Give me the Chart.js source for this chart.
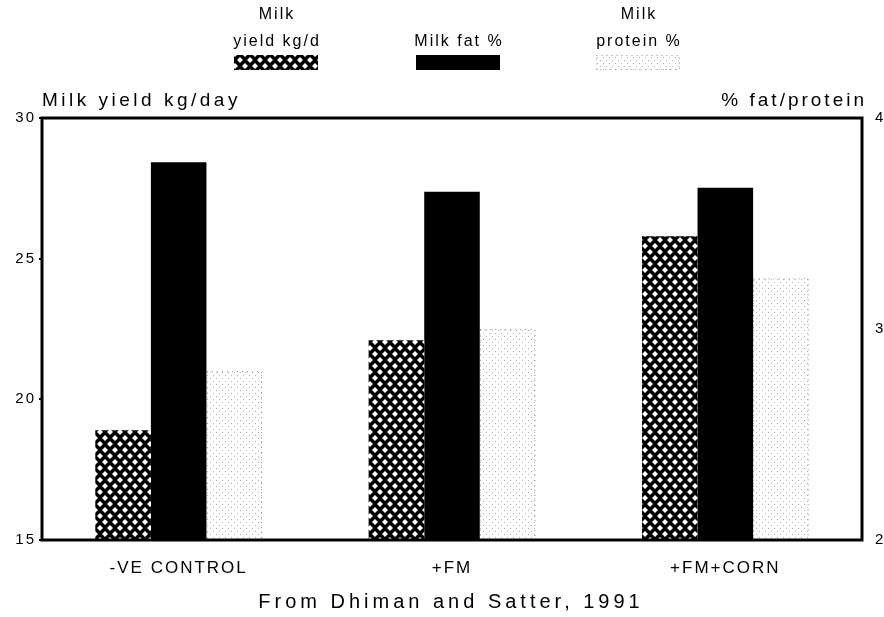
<!DOCTYPE html>
<html lang="en">
<head>
  <meta charset="UTF-8">
  <title>Milk yield and composition</title>
  <script src="https://cdn.jsdelivr.net/npm/chart.js"></script>
  <style>
    body { margin: 0; background: #fff; }
    #wrap { width: 884px; height: 617px; }
  </style>
</head>
<body>
  <div id="wrap"><canvas id="milkChart" width="884" height="617"></canvas></div>
  <script>
    // values
    const categories = ['-VE CONTROL', '+FM', '+FM+CORN'];
    const milkYield = [18.9, 22.1, 25.8];      // kg/day, left axis
    const milkFat = [3.79, 3.65, 3.67];        // %, right axis
    const milkProtein = [2.80, 3.00, 3.24];    // %, right axis
    const leftTicks = [15, 20, 25, 30];
    const rightTicks = [2, 3, 4];

    const FONT = '"Liberation Sans", Arial, sans-serif';

    // black mesh with white diamonds
    function meshPattern(ctx) {
      const w = 10, h = 12;
      const c = document.createElement('canvas');
      c.width = w; c.height = h;
      const g = c.getContext('2d');
      g.fillStyle = '#000';
      g.fillRect(0, 0, w, h);
      g.fillStyle = '#fff';
      const pts = [[0, 0], [w, 0], [0, h], [w, h], [w / 2, h / 2]];
      pts.forEach(([x, y]) => {
        g.beginPath();
        g.moveTo(x, y - 3.1);
        g.lineTo(x + 3, y);
        g.lineTo(x, y + 3.1);
        g.lineTo(x - 3, y);
        g.closePath();
        g.fill();
      });
      return ctx.createPattern(c, 'repeat');
    }

    // light dotted diagonal hatching
    function dotPattern(ctx) {
      const c = document.createElement('canvas');
      c.width = 6; c.height = 6;
      const g = c.getContext('2d');
      g.fillStyle = '#fff';
      g.fillRect(0, 0, 6, 6);
      g.fillStyle = '#b0b0b0';
      g.fillRect(0, 0, 1, 1);
      g.fillRect(3, 3, 1, 1);
      return ctx.createPattern(c, 'repeat');
    }

    const ctx = document.getElementById('milkChart').getContext('2d');
    const meshFill = meshPattern(ctx);
    const dotFill = dotPattern(ctx);

    const spacing = {
      id: 'spacing',
      beforeDraw(chart) { chart.ctx.letterSpacing = '2px'; }
    };

    const frame = {
      id: 'frame',
      afterDatasetsDraw(chart) {
        const c = chart.ctx, a = chart.chartArea;
        // faint dotted outline on protein bars
        const meta = chart.getDatasetMeta(2);
        c.save();
        c.strokeStyle = '#888';
        c.lineWidth = 1;
        c.setLineDash([1, 4]);
        meta.data.forEach(bar => {
          const x0 = bar.x - bar.width / 2 + 0.5;
          c.strokeRect(x0, bar.y + 0.5, bar.width - 1, a.bottom - bar.y);
        });
        c.restore();
        c.save();
        c.strokeStyle = '#000';
        c.lineWidth = 3;
        c.strokeRect(a.left, a.top, a.right - a.left, a.bottom - a.top);
        c.restore();
      }
    };

    const texts = {
      id: 'texts',
      afterDraw(chart) {
        const c = chart.ctx, a = chart.chartArea;
        c.save();
        c.fillStyle = '#000';
        c.textBaseline = 'alphabetic';
        c.font = '19px ' + FONT;
        c.letterSpacing = '3.5px';
        c.textAlign = 'left';
        c.fillText('Milk yield kg/day', 42, a.top - 12);
        c.letterSpacing = '3px';
        c.textAlign = 'right';
        c.fillText('% fat/protein', 867, a.top - 12);
        c.textAlign = 'center';
        c.font = '20px ' + FONT;
        c.letterSpacing = '4px';
        c.fillText('From Dhiman and Satter, 1991', 451, 608);

        // legend: labels above swatches
        c.font = '16px ' + FONT;
        c.letterSpacing = '2px';
        const items = [
          { lines: ['Milk', 'yield kg/d'], cx: 276, fill: meshFill },
          { lines: ['Milk fat %'], cx: 458, fill: '#000' },
          { lines: ['Milk', 'protein %'], cx: 638, fill: dotFill }
        ];
        items.forEach(it => {
          const n = it.lines.length;
          it.lines.forEach((t, i) => c.fillText(t, it.cx + 1, 46 - (n - 1 - i) * 27));
          c.fillStyle = it.fill;
          c.fillRect(it.cx - 42, 55, 84, 15);
          if (it.fill === dotFill) {
            c.strokeStyle = '#888';
            c.setLineDash([1, 4]);
            c.lineWidth = 1;
            c.strokeRect(it.cx - 42 + 0.5, 55.5, 83, 14);
            c.setLineDash([]);
          }
          c.fillStyle = '#000';
        });
        c.restore();
      }
    };

    new Chart(ctx, {
      type: 'bar',
      data: {
        labels: categories,
        datasets: [
          { label: 'Milk yield kg/d', data: milkYield, yAxisID: 'y', backgroundColor: meshFill },
          { label: 'Milk fat %', data: milkFat, yAxisID: 'y1', backgroundColor: '#000' },
          { label: 'Milk protein %', data: milkProtein, yAxisID: 'y1', backgroundColor: dotFill }
        ]
      },
      options: {
        responsive: false,
        animation: false,
        layout: { padding: { top: 118, left: 0, right: 0, bottom: 0 } },
        datasets: { bar: { barPercentage: 1, categoryPercentage: 0.61, borderWidth: 0 } },
        plugins: {
          legend: { display: false },
          title: { display: false },
          tooltip: { enabled: false }
        },
        scales: {
          x: {
            grid: { display: false },
            border: { display: false },
            ticks: { color: '#000', font: { family: FONT, size: 17 }, padding: 10 },
            afterFit(s) { s.height = 77; }
          },
          y: {
            position: 'left',
            min: 15, max: 30,
            afterBuildTicks(s) { s.ticks = leftTicks.map(v => ({ value: v })); },
            grid: { drawOnChartArea: false, color: '#000', tickLength: 3, lineWidth: 2 },
            border: { display: false },
            ticks: { color: '#000', font: { family: FONT, size: 15 }, padding: 3 },
            afterFit(s) { s.width = 42; }
          },
          y1: {
            position: 'right',
            min: 2, max: 4,
            afterBuildTicks(s) { s.ticks = rightTicks.map(v => ({ value: v })); },
            grid: { drawOnChartArea: false, display: false },
            border: { display: false },
            ticks: { color: '#000', font: { family: FONT, size: 15 }, padding: 5 },
            afterFit(s) { s.width = 22; }
          }
        }
      },
      plugins: [spacing, frame, texts]
    });
  </script>
</body>
</html>
